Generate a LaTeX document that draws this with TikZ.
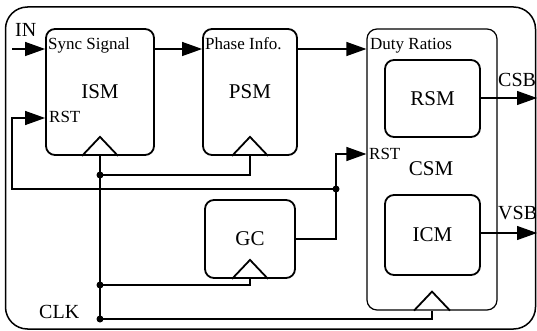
\documentclass[tikz,border=0pt]{standalone}
\usepackage{fontspec}
\setmainfont{Liberation Serif}
\usetikzlibrary{arrows.meta,calc}
\begin{document}
\begin{tikzpicture}[x=1pt,y=-1pt,
  blk/.style={draw,line width=1.8pt,rounded corners=9pt,inner sep=0,
    font=\fontsize{21}{24}\selectfont},
  grp/.style={draw,line width=1.2pt,rounded corners=10pt,inner sep=0},
  wire/.style={line width=1.2pt},
  tip/.tip={Triangle[length=20pt,width=14pt]},
  sig/.style={line width=1.2pt,-tip},
  big/.style={font=\fontsize{21}{24}\selectfont,inner sep=0,anchor=base},
  lbl/.style={font=\fontsize{20}{22}\selectfont,inner sep=0,anchor=base west},
  small/.style={font=\fontsize{17}{19}\selectfont,inner sep=0,anchor=base west},
  dot/.style={circle,fill,inner sep=0,minimum size=7pt},
  clk/.style={line width=1.8pt,line join=miter}
]
\useasboundingbox (0,0) rectangle (537,331);
% outer frame
\node[draw,line width=1.5pt,rounded corners=22pt,minimum width=530pt,minimum height=322pt,inner sep=0] (outer) at (270.5,168) {};
% blocks
\node[blk,minimum width=108pt,minimum height=126pt] (ism) at (100,92) {ISM};
\node[blk,minimum width=94pt,minimum height=126pt] (psm) at (250,92) {PSM};
\node[grp,minimum width=130pt,minimum height=281pt] (csm) at (432,169.5) {};
\node[blk,minimum width=95pt,minimum height=77pt] (rsm) at (432.5,98.5) {RSM};
\node[blk,minimum width=95pt,minimum height=80pt] (icm) at (432.5,235) {ICM};
\node[blk,minimum width=90pt,minimum height=78pt] (gc) at (250,239) {GC};
\node[big] (csml) at (431,175) {CSM};
% port labels
\node[small] (l1) at (48,50) {Sync Signal};
\node[small] (l2) at (205,50) {Phase Info.};
\node[small] (l3) at (370,50) {Duty Ratios};
\node[small] (l4) at (49,123) {RST};
\node[small] (l5) at (369,159) {RST};
\node[lbl] (lin) at (15,37) {IN};
\node[lbl] (lclk) at (39,318) {CLK};
\node[lbl] (lcsb) at (498,87) {CSB};
\node[lbl] (lvsb) at (498,219) {VSB};
% clock triangles
\foreach \n in {ism,psm,gc,csm}
  \draw[clk] ($(\n.south)+(-18,0)$) -- ($(\n.south)+(0,-19)$) -- ($(\n.south)+(18,0)$);
% coordinates and junctions
\coordinate (inS) at (12,49);
\coordinate (rstA) at (12,118);
\coordinate (fbC) at (12,189);
\coordinate (rstB) at (336,154);
\coordinate (gcO) at (336,239);
\coordinate (csbE) at (537,98);
\coordinate (vsbE) at (537,233);
\node[dot] (dj) at (336,189) {};
\node[dot] (d1) at (100,175) {};
\node[dot] (d2) at (100,285) {};
\node[dot] (d3) at (100,319) {};
% signals
\draw[sig] (inS) -- (inS -| ism.west);
\draw[sig] (ism.east |- inS) -- (psm.west |- inS);
\draw[sig] (psm.east |- inS) -- (csm.west |- inS);
\draw[wire,tip-tip] (rstA -| ism.west) -- (rstA) -- (fbC) -- (dj.center) -- (rstB) -- (rstB -| csm.west);
\draw[wire] (gc.east |- gcO) -- (gcO) -- (dj.center);
\draw[sig] (rsm.east |- csbE) -- (csbE);
\draw[sig] (icm.east |- vsbE) -- (vsbE);
% clock distribution
\draw[wire] (ism.south) -- (d3.center);
\draw[wire] (d1.center) -- (d1 -| psm.south) -- (psm.south);
\draw[wire] (d2.center) -- (d2 -| gc.south) -- (gc.south);
\draw[wire] (d3.center) -- (d3 -| csm.south) -- (csm.south);
\end{tikzpicture}
\end{document}
